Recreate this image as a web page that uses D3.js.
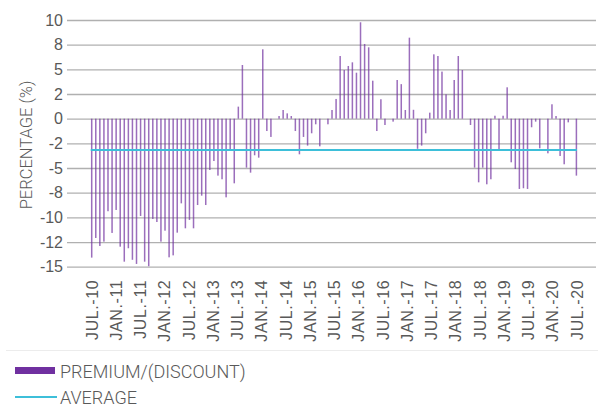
<!DOCTYPE html>
<html><head><meta charset="utf-8">
<script src="https://cdn.jsdelivr.net/npm/d3@7/dist/d3.min.js"></script>
<style>
body{margin:0;background:#fff;}
svg{display:block;font-family:Roboto,"Liberation Sans",sans-serif;}
</style></head><body>
<svg id="c" width="598" height="407"></svg>
<script>
// Monthly premium/(discount), % (120 monthly bars)
const premiumDiscount = [
 -14.08,-12.09,-12.9,-12.46,-9.38,-11.58,-9.25,-12.97,-14.49,-13.13,
 -14.3,-14.72,-9.86,-14.49,-14.95,-10.16,-10.47,-12.46,-11.35,-14.05,
 -13.85,-11.55,-8.58,-11.11,-10.26,-11.11,-8.75,-7.8,-8.75,-5.2,
 -4.29,-5.77,-6.14,-7.97,-3.17,-6.55,1.22,5.44,-4.96,-5.47,
 -3.71,-3.95,7.03,-1.25,-1.85,0,0.27,0.88,0.54,0.27,
 -1.25,-3.61,-1.85,-2.73,-1.48,-0.57,-2.8,0,-0.57,0.88,
 2.0,6.35,4.93,5.34,5.71,4.66,9.77,7.57,7.23,3.85,
 -1.25,1.97,-0.64,0,-0.3,3.92,3.5,0.88,8.21,0.9,
 -3.05,-2.73,-1.48,0.61,6.52,6.35,4.77,2.47,0.88,3.92,
 6.35,4.93,0,-0.64,-4.96,-6.45,-4.96,-6.65,-6.14,0.3,
 -3.17,0.3,3.18,-4.42,-5.1,-7.12,-7.05,-7.12,-0.87,-0.3,
 -3.0,0,-3.51,1.46,0.27,-3.78,-4.62,-0.37,0,-5.77
];
const averageValue = [-3.17];
const yTickValues = [-15,-12.5,-10,-7.5,-5,-2.5,0,2.5,5,7.5,10];
const yTickLabels = ["-15","-12","-10","-8","-5","-2","0","2","5","8","10"];
const xTickLabels = ["JUL.-10","JAN.-11","JUL.-11","JAN.-12","JUL.-12","JAN.-13","JUL.-13",
 "JAN.-14","JUL.-14","JAN.-15","JUL.-15","JAN.-16","JUL.-16","JAN.-17","JUL.-17",
 "JAN.-18","JUL.-18","JAN.-19","JUL.-19","JAN.-20","JUL.-20"];
const yTitle = "PERCENTAGE (%)";
const legendLabels = ["PREMIUM/(DISCOUNT)","AVERAGE"];

const PURPLE = "#7030A0", CYAN = "#3dbfd9", TEXT = "#595959", GRID = "#b0b0b0";
const svg = d3.select("#c");

const y = d3.scaleLinear().domain([-15,10]).range([266.7,20]);
const x = d3.scalePoint().domain(d3.range(premiumDiscount.length)).range([91.7,576.4]);
const xl = d3.scaleLinear().domain([0, xTickLabels.length-1]).range([91.4,576.6]);

// gridlines + y labels
const gx0 = 67, gx1 = 596;
const yAxis = svg.append("g").attr("transform",`translate(${gx0},0)`)
 .call(d3.axisLeft(y).tickValues(yTickValues).tickSize(0).tickPadding(4)
   .tickFormat((d,i)=>yTickLabels[i]));
yAxis.select(".domain").remove();
yAxis.selectAll(".tick line").attr("x2", gx1-gx0).attr("stroke",GRID).attr("stroke-width",1.3);
yAxis.selectAll("text").attr("fill",TEXT).style("font-size","16px").style("font-weight",300)
  .attr("font-family",null);

// y title
svg.append("text").attr("transform","translate(26,145) rotate(-90)")
 .attr("text-anchor","middle").attr("dy","0.35em").attr("fill",TEXT)
 .style("font-size","16.5px").style("font-weight",300).text(yTitle);

// bars
svg.append("g").selectAll("rect").data(premiumDiscount).join("rect")
 .attr("x",(d,i)=>x(i)-0.75).attr("width",1.5)
 .attr("y",d=>y(Math.max(0,d))).attr("height",d=>Math.abs(y(d)-y(0)))
 .attr("fill",PURPLE).attr("fill-opacity",0.7);

// average line
svg.append("line").attr("x1",x(0)-1).attr("x2",x(premiumDiscount.length-1)+0.5)
 .attr("y1",y(averageValue[0])).attr("y2",y(averageValue[0]))
 .attr("stroke",CYAN).attr("stroke-width",2);

// x axis labels
const xAxis = svg.append("g").attr("transform",`translate(0,${y(-15)})`)
 .call(d3.axisBottom(xl).tickValues(d3.range(xTickLabels.length)).tickSize(0)
   .tickFormat(i=>xTickLabels[i]));
xAxis.select(".domain").remove();
xAxis.selectAll("text").attr("transform","rotate(-90)").attr("x",-13).attr("y",0)
 .attr("dy","0.35em").attr("text-anchor","end").attr("fill",TEXT)
 .style("font-size","16px").style("font-weight",300).style("letter-spacing","0.6px");

// separator
svg.append("line").attr("x1",6).attr("x2",598).attr("y1",350.5).attr("y2",350.5)
 .attr("stroke","#ececec").attr("stroke-width",1);

// legend
svg.append("rect").attr("x",15).attr("y",367).attr("width",40).attr("height",7).attr("fill",PURPLE);
svg.append("line").attr("x1",15).attr("x2",57).attr("y1",397).attr("y2",397)
 .attr("stroke",CYAN).attr("stroke-width",2);
svg.append("g").selectAll("text").data(legendLabels).join("text")
 .attr("x",60).attr("y",(d,i)=>[378.3,404.2][i]).attr("fill",TEXT)
 .style("font-size","18px").style("font-weight",300).text(d=>d);
</script>
</body></html>
